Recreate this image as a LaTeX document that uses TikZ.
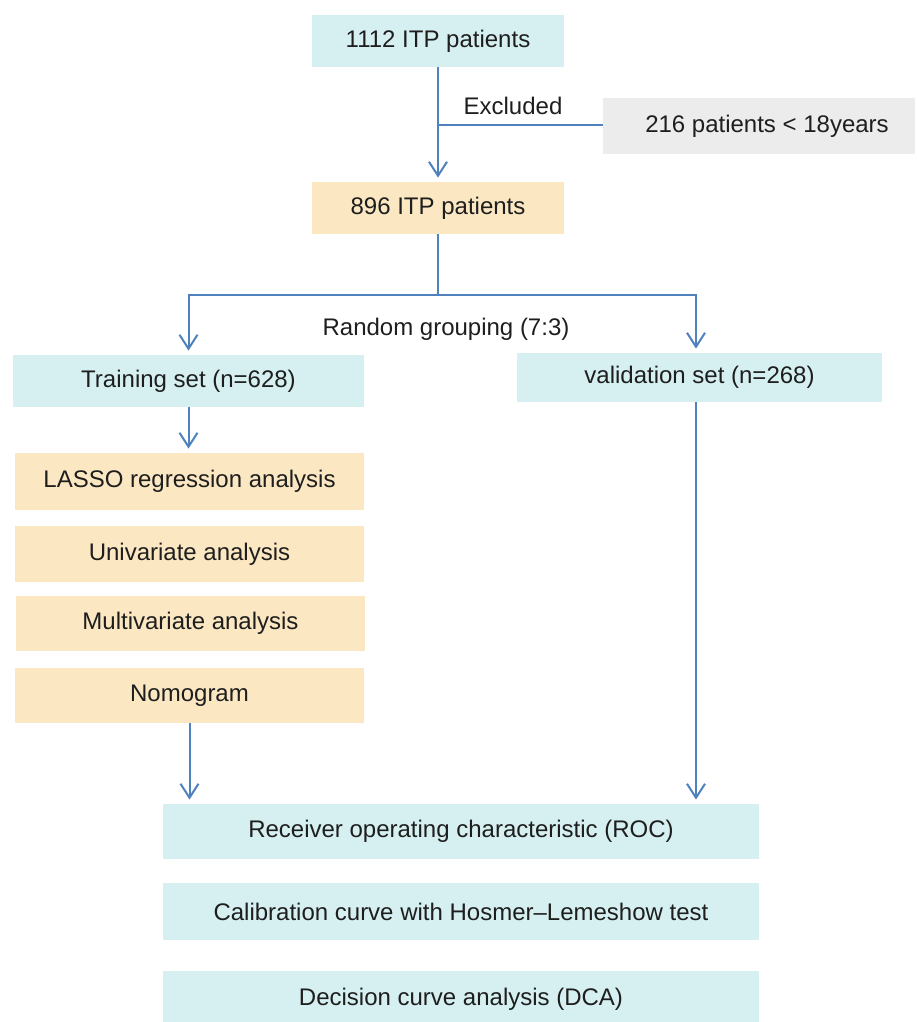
\documentclass[tikz,border=0pt]{standalone}
\usepackage{fontspec}
\setmainfont{Liberation Sans}
\usetikzlibrary{arrows.meta}
\definecolor{cyanbox}{RGB}{214,240,242}
\definecolor{goldbox}{RGB}{251,232,195}
\definecolor{graybox}{RGB}{236,236,236}
\definecolor{linkblue}{RGB}{79,129,189}
\definecolor{txt}{RGB}{30,30,30}
\tikzset{
  box/.style={inner sep=0pt, anchor=center, text=txt, font=\fontsize{12}{14}\selectfont},
  cyanb/.style={box, fill=cyanbox},
  goldb/.style={box, fill=goldbox},
  grayb/.style={box, fill=graybox},
  lbl/.style={text=txt, font=\fontsize{12}{14}\selectfont, inner sep=0pt},
  link/.style={draw=linkblue, line width=1pt},
  arr/.style={link, -{Straight Barb[length=7pt, width=9pt, line width=1pt]}, shorten >=2pt},
}
\begin{document}
\begin{tikzpicture}[x=0.5pt, y=-0.5pt]
\useasboundingbox (0,0) rectangle (916,1022);
% boxes
\node[cyanb, minimum width=126pt, minimum height=26pt] (n1112) at (438,41) {1112 ITP patients};
\node[grayb, minimum width=156pt, minimum height=28pt] (excl) at (759,126) {\hspace*{8pt}216 patients < 18years};
\node[goldb, minimum width=126pt, minimum height=26pt] (n896) at (438,208) {896 ITP patients};
\node[cyanb, minimum width=175.5pt, minimum height=26pt] (train) at (188.5,381) {Training set (n=628)};
\node[cyanb, minimum width=182.5pt, minimum height=24.5pt] (valid) at (699.5,377.5) {validation set (n=268)};
\node[goldb, minimum width=174.5pt, minimum height=28.5pt] (lasso) at (189.5,481.5) {LASSO regression analysis};
\node[goldb, minimum width=174.5pt, minimum height=28pt] (univ) at (189.5,554) {Univariate analysis};
\node[goldb, minimum width=174.5pt, minimum height=27.5pt] (multi) at (190.5,623.5) {Multivariate analysis};
\node[goldb, minimum width=174.5pt, minimum height=27.5pt] (nomo) at (189.5,695.5) {Nomogram};
\node[cyanb, minimum width=298pt, minimum height=27.5pt] (roc) at (461,831.5) {Receiver operating characteristic (ROC)};
\node[cyanb, minimum width=298pt, minimum height=28.5pt] (calib) at (461,911.5) {Calibration curve with Hosmer--Lemeshow test};
\node[cyanb, minimum width=298pt, minimum height=28pt] (dca) at (461,999) {Decision curve analysis (DCA)};
% labels
\node[lbl] (lexcl) at (513,106) {Excluded};
\node[lbl] (lrand) at (446,329) {Random grouping (7:3)};
% connectors
\coordinate (jx) at ([yshift=-29pt]n1112.south);
\coordinate (js) at ([yshift=-30.5pt]n896.south);
\coordinate (vx) at ([xshift=-1.75pt]valid.south);
\draw[arr] (n1112.south) -- (n896.north);
\draw[link] (jx) -- (excl.west |- jx);
\draw[link] (n896.south) -- (js);
\draw[arr] (js) -| (train.north);
\draw[arr] (js) -| (vx |- valid.north);
\draw[arr] (train.south) -- (train.south |- lasso.north);
\draw[arr] (nomo.south) -- (nomo.south |- roc.north);
\draw[arr] (vx) -- (vx |- roc.north);
\end{tikzpicture}
\end{document}
